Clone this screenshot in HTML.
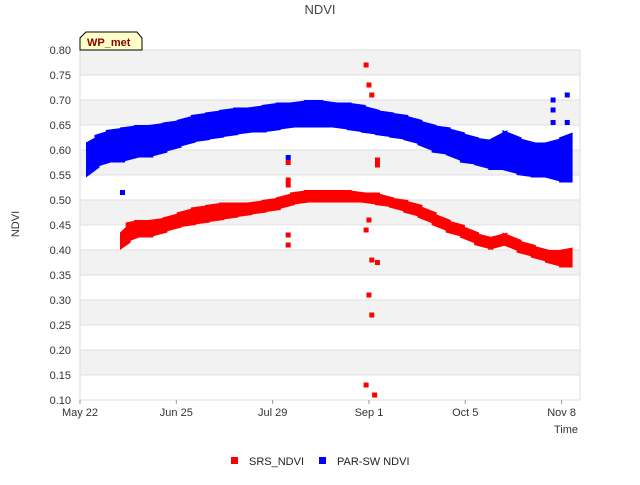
<!DOCTYPE html>
<html><head><meta charset="utf-8"><style>
body{margin:0;background:#fff;}
svg{font-family:"Liberation Sans",sans-serif;}
</style></head><body>
<svg id="c" width="640" height="480">
<text x="320" y="14" text-anchor="middle" font-size="13" fill="#444">NDVI</text>
<g id="bands"></g>
<g id="yt"></g>
<g id="xt"></g>
<g id="marks"></g>
<text x="19" y="224" transform="rotate(-90 19 224)" text-anchor="middle" font-size="11" fill="#333">NDVI</text>
<text x="578" y="433" text-anchor="end" font-size="11" fill="#333">Time</text>
<g>
<path d="M80,50 L80,38 L86,32 L137,32 L142,38 L142,50 Z" fill="#ffffc8" stroke="#000" stroke-width="1"/>
<text x="87" y="46" font-size="11" font-weight="bold" fill="#8b0000">WP_met</text>
</g>
<g>
<rect x="231" y="457" width="7" height="7" fill="#ff0000"/>
<text x="249" y="465" font-size="11" fill="#222">SRS_NDVI</text>
<rect x="319" y="457" width="7" height="7" fill="#0000ff"/>
<text x="337" y="465" font-size="11" fill="#222">PAR-SW NDVI</text>
</g>
</svg>
<script>
const yTicks=[0.10,0.15,0.20,0.25,0.30,0.35,0.40,0.45,0.50,0.55,0.60,0.65,0.70,0.75,0.80];
const xTickLabels=["May 22","Jun 25","Jul 29","Sep 1","Oct 5","Nov 8"];
const xTickDays=[0,34,68,102,136,170];
const srsDays=[15,17,20,25,30,35,40,45,50,55,60,65,70,75,80,85,90,95,100,105,110,115,120,125,130,135,140,145,150,155,160,165,170,173];
const srsLow=[0.405,0.42,0.43,0.43,0.44,0.45,0.455,0.46,0.465,0.47,0.475,0.48,0.485,0.495,0.50,0.50,0.50,0.50,0.50,0.495,0.49,0.48,0.47,0.455,0.44,0.43,0.415,0.405,0.415,0.40,0.39,0.38,0.37,0.37];
const srsHigh=[0.43,0.45,0.455,0.455,0.46,0.47,0.48,0.485,0.49,0.49,0.49,0.495,0.50,0.51,0.515,0.515,0.515,0.515,0.51,0.51,0.50,0.495,0.485,0.47,0.455,0.445,0.43,0.42,0.43,0.415,0.405,0.395,0.395,0.40];
const srsOutX=[73.5,73.5,73.5,73.5,73.5,101,102,103,101,102,103,105,105,105,102,103,101,104];
const srsOutY=[0.43,0.41,0.53,0.54,0.575,0.77,0.73,0.71,0.44,0.46,0.38,0.375,0.58,0.57,0.31,0.27,0.13,0.11];
const parDays=[3,6,10,15,20,25,30,35,40,45,50,55,60,65,70,75,80,85,90,95,100,105,110,115,120,125,130,135,140,145,150,155,160,165,170,173];
const parLow=[0.55,0.57,0.58,0.58,0.59,0.59,0.60,0.61,0.62,0.625,0.63,0.635,0.64,0.64,0.645,0.65,0.65,0.65,0.65,0.645,0.64,0.635,0.63,0.625,0.615,0.60,0.595,0.58,0.575,0.565,0.565,0.555,0.55,0.55,0.54,0.54];
const parHigh=[0.61,0.625,0.635,0.64,0.645,0.645,0.65,0.655,0.665,0.67,0.675,0.68,0.68,0.685,0.69,0.69,0.695,0.695,0.69,0.69,0.685,0.675,0.67,0.665,0.655,0.645,0.64,0.63,0.62,0.615,0.635,0.62,0.61,0.61,0.62,0.63];
const parOutX=[15,73.5,167,167,172,172,167];
const parOutY=[0.515,0.585,0.70,0.68,0.71,0.655,0.655];
const X0=80,X1=580,Y0=400,Y1=50;
const xS=d=>X0+d*(X1-X0)/176.5;
const yS=v=>Y0-(v-0.10)*(Y0-Y1)/0.70;
const NS="http://www.w3.org/2000/svg";
function mk(t,a,p){const e=document.createElementNS(NS,t);for(const k in a)e.setAttribute(k,a[k]);p.appendChild(e);return e;}
const bands=document.getElementById('bands');
for(let i=0;i<yTicks.length-1;i++){
 const r=mk('rect',{x:X0,y:yS(yTicks[i+1]),width:X1-X0,height:yS(yTicks[i])-yS(yTicks[i+1]),fill:i%2?'#f2f2f2':'#ffffff'},bands);
 
 
}
mk('rect',{x:X0,y:Y1,width:X1-X0,height:Y0-Y1,fill:'none',stroke:'#ddd'},bands);
const yt=document.getElementById('yt');
yTicks.forEach(v=>{
 mk('line',{x1:X0,x2:X1,y1:yS(v),y2:yS(v),stroke:'#e0e0e0'},yt);
 const t=mk('text',{x:71,y:yS(v)+4,'text-anchor':'end','font-size':11,fill:'#333'},yt);
 t.textContent=v.toFixed(2);
 
 
});
const xt=document.getElementById('xt');
xTickDays.forEach((d,i)=>{
 mk('line',{x1:xS(d),x2:xS(d),y1:Y0,y2:Y0+4,stroke:'#999'},xt);
 const t=mk('text',{x:xS(d),y:416,'text-anchor':'middle','font-size':11,fill:'#333'},xt);
 t.textContent=xTickLabels[i];
 
 
});
const marks=document.getElementById('marks');
function band(days,lo,hi,col,name){
 for(let i=0;i<days.length-1;i++){
  const xa=xS(days[i])-2.5,xb=xS(days[i+1])+2.5;
  const pts=[[xa,yS(hi[i])-2.5],[xb,yS(hi[i+1])-2.5],[xb,yS(lo[i+1])+2.5],[xa,yS(lo[i])+2.5]];
  const r=mk('polygon',{points:pts.map(p=>p.join(',')).join(' '),fill:col},marks);
  
  
 }
}
function pts(xs,ys,col,name){
 xs.forEach((d,i)=>{
  const r=mk('rect',{x:xS(d)-2.5,y:yS(ys[i])-2.5,width:5,height:5,fill:col},marks);
  
  
 });
}
band(srsDays,srsLow,srsHigh,'#ff0000','srs-ndvi-points');
pts(srsOutX,srsOutY,'#ff0000','srs-ndvi-outlier');
band(parDays,parLow,parHigh,'#0000ff','par-ndvi-points');
pts(parOutX,parOutY,'#0000ff','par-ndvi-outlier');
</script>
</body></html>
